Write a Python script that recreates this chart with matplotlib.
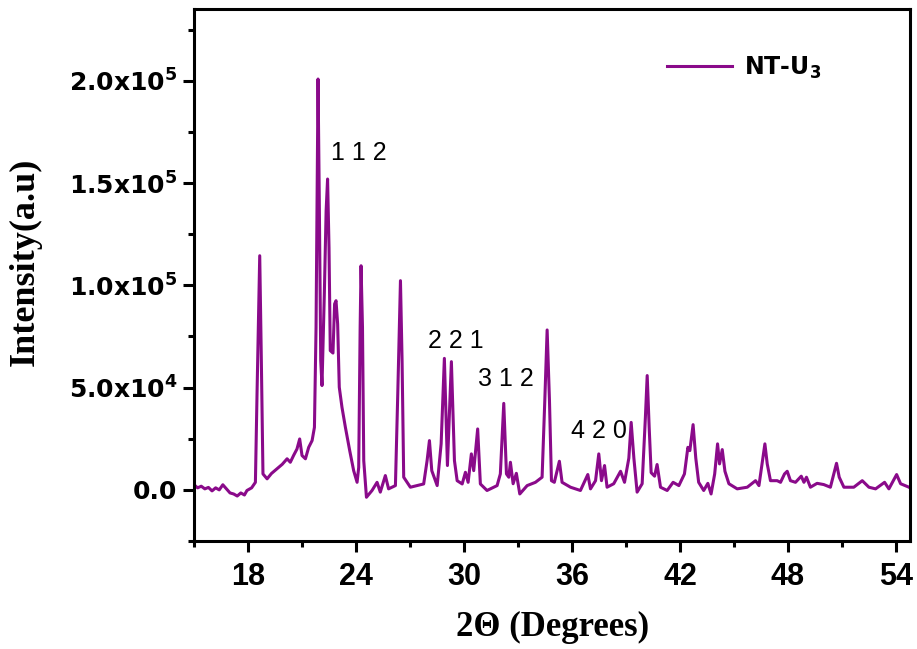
import matplotlib
matplotlib.use("Agg")
import matplotlib.pyplot as plt
from matplotlib.ticker import MultipleLocator

## XRD pattern (2theta in degrees, intensity in 10^3 counts)
two_theta = [
    15.0, 15.2, 15.4, 15.6, 15.8, 16.0, 16.2, 16.4, 16.6, 16.8, 17.0, 17.2, 17.4, 17.6, 17.8, 17.94,
    18.2, 18.41, 18.50, 18.65, 18.74, 18.83, 19.06, 19.3, 19.61, 19.9, 20.17, 20.35, 20.53, 20.72,
    20.87, 21.0, 21.19, 21.37, 21.56, 21.69, 21.78, 21.89, 21.96, 22.04, 22.11, 22.24, 22.34, 22.42,
    22.50, 22.57, 22.72, 22.81, 22.89, 22.98, 23.07, 23.22, 23.41, 23.65, 23.87, 24.06, 24.15, 24.23,
    24.28, 24.36, 24.43, 24.58, 24.89, 25.17, 25.35, 25.63, 25.81, 26.19, 26.32, 26.47, 26.56, 26.65,
    27.02, 27.39, 27.76, 27.95, 28.08, 28.21, 28.51, 28.73, 28.91, 29.08, 29.30, 29.47, 29.62, 29.90,
    30.08, 30.23, 30.41, 30.54, 30.76, 30.91, 31.28, 31.47, 31.84, 32.02, 32.21, 32.36, 32.49, 32.58,
    32.73, 32.91, 33.10, 33.51, 33.97, 34.34, 34.49, 34.62, 34.75, 34.86, 35.02, 35.30, 35.45, 35.92,
    36.47, 36.88, 37.03, 37.31, 37.49, 37.64, 37.81, 37.95, 38.32, 38.70, 38.92, 39.16, 39.29, 39.44,
    39.62, 39.90, 40.08, 40.18, 40.29, 40.40, 40.59, 40.73, 40.92, 41.29, 41.62, 41.94, 42.25, 42.44,
    42.55, 42.73, 42.88, 43.04, 43.32, 43.55, 43.73, 43.93, 44.09, 44.20, 44.35, 44.50, 44.72, 45.18,
    45.74, 46.20, 46.39, 46.61, 46.72, 46.85, 47.03, 47.40, 47.59, 47.81, 47.96, 48.14, 48.42, 48.74,
    48.89, 49.03, 49.25, 49.62, 49.99, 50.36, 50.55, 50.70, 50.85, 51.11, 51.66, 52.13, 52.50, 52.87,
    53.37, 53.61, 54.04, 54.26, 54.73, 55.0,
]
intensity_k = [
    2.5, 1.0, 1.8, 0.5, 1.2, -0.5, 1.0, 0.0, 2.5, 0.5, -1.5, -2.0, -3.0, -1.5, -2.5, -0.3,
    1.0, 3.7, 46.9, 114.5, 63.2, 7.8, 5.4, 8.0, 10.3, 12.5, 15.2, 13.5, 16.8, 20.0,
    24.9, 16.8, 15.2, 20.8, 24.1, 30.6, 79.5, 200.9, 141.4, 63.2, 51.0, 95.8, 136.5, 152.0,
    118.6, 68.1, 66.9, 90.9, 92.5, 81.1, 50.2, 40.4, 30.6, 19.2, 9.4, 3.7, 11.0, 79.5,
    109.6, 79.5, 14.3, -3.6, -0.3, 3.7, -1.1, 7.0, 0.5, 2.1, 46.9, 102.3, 63.2, 6.2,
    1.3, 2.1, 2.9, 14.3, 24.1, 9.4, 2.1, 22.5, 64.3, 11.9, 62.7, 14.3, 4.5, 2.9,
    8.6, 3.7, 17.6, 9.4, 29.8, 2.9, -0.3, 0.5, 2.1, 7.8, 42.3, 7.8, 6.2, 13.5,
    3.0, 8.1, -2.0, 2.1, 3.7, 6.2, 43.6, 78.2, 43.6, 4.5, 3.7, 14.0, 3.7, 1.3,
    -0.3, 7.5, 0.5, 4.5, 17.6, 4.5, 11.9, 1.3, 3.0, 9.1, 3.7, 15.5, 33.0, 15.5,
    -1.1, 3.0, 35.5, 55.9, 30.6, 8.4, 6.7, 12.4, 1.3, -0.3, 3.7, 2.1, 7.8, 20.8,
    19.2, 31.9, 15.5, 3.7, -0.3, 3.2, -2.0, 7.8, 22.5, 12.7, 19.7, 9.1, 3.0, 0.5,
    1.3, 4.5, 2.1, 15.5, 22.5, 12.7, 4.5, 4.5, 3.7, 7.8, 9.1, 4.5, 3.7, 6.7,
    3.7, 6.2, 1.3, 3.2, 2.6, 1.3, 7.8, 13.0, 6.2, 1.3, 1.3, 4.5, 1.3, 0.5,
    3.7, 0.5, 7.5, 3.0, 1.3, -0.6,
]
intensity = [v * 1000 for v in intensity_k]

# Miller indices written on the plot
hkl_text = ["1 1 2", "2 2 1", "3 1 2", "4 2 0"]
hkl_x = [24.13, 29.53, 32.31, 37.48]
hkl_y = [164900, 72900, 54400, 29000]

x_ticks = [18, 24, 30, 36, 42, 48, 54]
y_ticks = [0, 50000, 100000, 150000, 200000]
y_tick_labels = ["0.0", r"5.0x10$^{\mathbf{4}}$", r"1.0x10$^{\mathbf{5}}$",
                 r"1.5x10$^{\mathbf{5}}$", r"2.0x10$^{\mathbf{5}}$"]

purple = "#8a0a8a"

fig = plt.figure(figsize=(9.17, 6.49), dpi=100)
ax = fig.add_axes([0.2116, 0.1664, 0.7811, 0.8193])

ax.plot(two_theta, intensity, color=purple, lw=2.2, label=r"NT-U$_{\mathbf{3}}$")

for t, xx, yy in zip(hkl_text, hkl_x, hkl_y):
    ax.text(xx, yy, t, ha="center", va="center", fontsize=18, family="Liberation Sans")

ax.set_xlim(15, 54.8)
ax.set_ylim(-25000, 235000)

ax.set_xticks(x_ticks)
ax.xaxis.set_minor_locator(MultipleLocator(3))
ax.set_yticks(y_ticks)
ax.set_yticklabels(y_tick_labels)
ax.yaxis.set_minor_locator(MultipleLocator(25000))

for lab in ax.get_xticklabels():
    lab.set_family("Liberation Sans")
    lab.set_fontweight("bold")
    lab.set_fontsize(22)
for lab in ax.get_yticklabels():
    lab.set_family("DejaVu Sans")
    lab.set_fontweight("bold")
    lab.set_fontsize(18)

ax.tick_params(axis="both", which="major", direction="out", length=8, width=2.2)
ax.tick_params(axis="both", which="minor", direction="out", length=4.5, width=2.2)
ax.tick_params(axis="x", pad=7)
ax.tick_params(axis="y", pad=4)
ax.tick_params(top=False, right=False, which="both")
for s in ax.spines.values():
    s.set_linewidth(2.2)

ax.set_xlabel("2Θ (Degrees)", family="Liberation Serif", fontweight="bold", fontsize=25)
ax.set_ylabel("Intensity(a.u)", family="Liberation Serif", fontweight="bold", fontsize=26)
ax.yaxis.set_label_coords(-0.213, 0.525)
ax.xaxis.set_label_coords(0.5, -0.132)

leg = ax.legend(loc="upper right", bbox_to_anchor=(0.905, 0.955), frameon=False,
                handlelength=2.75, handletextpad=0.5,
                prop={"family": "DejaVu Sans", "weight": "bold", "size": 17})

fig.savefig("out.png", dpi=100)
